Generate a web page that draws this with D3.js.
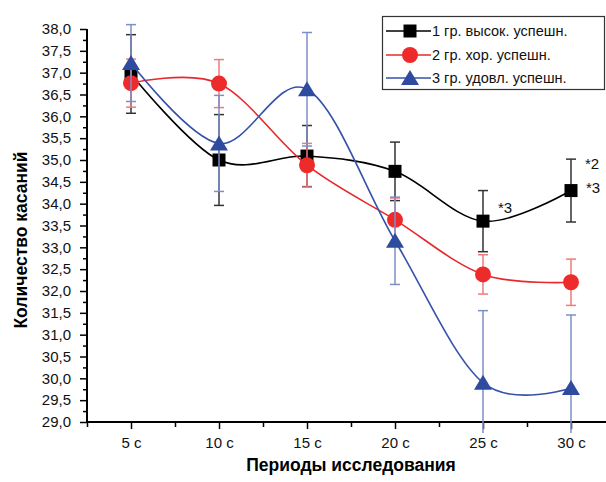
<!DOCTYPE html>
<html>
<head>
<meta charset="utf-8">
<script src="https://cdn.jsdelivr.net/npm/d3@7"></script>
<style>
  html, body { margin: 0; padding: 0; background: #fff; }
  svg { display: block; font-family: "Liberation Sans", Arial, sans-serif; }
</style>
</head>
<body>
<svg id="chart" width="606" height="482"></svg>
<script>
// ---- data ----
const periods = [5, 10, 15, 20, 25, 30];
const periodLabels = ["5 с", "10 с", "15 с", "20 с", "25 с", "30 с"];
const seriesNames = ["1 гр. высок. успешн.", "2 гр. хор. успешн.", "3 гр. удовл. успешн."];
const g1 = [36.97, 35.0, 35.09, 34.74, 33.6, 34.3];
const g1err = [0.9, 1.04, 0.7, 0.67, 0.7, 0.72];
const g2 = [36.76, 36.75, 34.88, 33.63, 32.38, 32.2];
const g2err = [0.55, 0.55, 0.5, 0.5, 0.45, 0.53];
const g3 = [37.22, 35.38, 36.62, 33.15, 29.9, 29.78];
const g3err = [0.88, 1.1, 1.3, 1.0, 1.65, 1.67];
const yTicks = d3.range(29, 38.001, 0.5);
const annotations = [
  { x: 25, y: 33.6, text: "*3", dx: 15, dy: -8 },
  { x: 30, y: 34.3, text: "*2", dx: 14, dy: -22 },
  { x: 30, y: 34.3, text: "*3", dx: 15, dy: 2 }
];

// ---- layout ----
const svg = d3.select("#chart");
const x = d3.scaleLinear().domain([2.5, 32.5]).range([87, 615]);
const y = d3.scaleLinear().domain([29, 38]).range([422, 29]);

const colors = ["#000000", "#ee2b2b", "#2f4b9f"];
const errColors = ["#333333", "#f07a7a", "#7d8fc8"];
const lineColors = ["#000000", "#e8282c", "#3552aa"];

// y axis
const yAxis = svg.append("g").attr("transform", "translate(87,0)");
yAxis.call(d3.axisLeft(y).tickValues(yTicks).tickSize(7).tickPadding(9)
  .tickFormat(d => d3.format(".1f")(d).replace(".", ",")));
yAxis.select(".domain").attr("d", `M-0,${y(38)}V${y(29)}`).attr("stroke-width", 2);
yAxis.selectAll(".tick line").attr("stroke-width", 1.5);
yAxis.selectAll("text").attr("font-size", 15).attr("fill", "#111");
const yMinor = svg.append("g").attr("transform", "translate(87,0)");
yMinor.call(d3.axisLeft(y).tickValues(d3.range(29.25, 38, 0.5)).tickSize(4).tickFormat(""));
yMinor.select(".domain").remove();
yMinor.selectAll(".tick line").attr("stroke-width", 1.5);

// x axis
const xAxis = svg.append("g").attr("transform", "translate(0,422)");
xAxis.call(d3.axisBottom(x).tickValues(periods).tickSize(7).tickPadding(8)
  .tickFormat((d, i) => periodLabels[i]));
xAxis.select(".domain").attr("d", `M87,0H615`).attr("stroke-width", 2);
xAxis.selectAll(".tick line").attr("stroke-width", 1.5);
xAxis.selectAll("text").attr("font-size", 15).attr("fill", "#111");
const xMinor = svg.append("g").attr("transform", "translate(0,422)");
xMinor.call(d3.axisBottom(x).tickValues(d3.range(2.5, 31, 5)).tickSize(5).tickFormat(""));
xMinor.select(".domain").remove();
xMinor.selectAll(".tick line").attr("stroke-width", 1.5);

// axis titles
svg.append("text").attr("x", 351).attr("y", 471).attr("text-anchor", "middle")
  .attr("font-size", 17.5).attr("font-weight", "bold").text("Периоды исследования");
svg.append("text").attr("transform", "translate(27,240) rotate(-90)").attr("text-anchor", "middle")
  .attr("font-size", 17.5).attr("font-weight", "bold").text("Количество касаний");

// clip for error bars
svg.append("clipPath").attr("id", "clip").append("rect")
  .attr("x", 80).attr("y", 0).attr("width", 530).attr("height", 433);

const line = d3.line().x(d => x(d[0])).y(d => y(d[1])).curve(d3.curveCardinal.tension(0));

const allSeries = [[g1, g1err], [g2, g2err], [g3, g3err]];
const symbols = [d3.symbolSquare, d3.symbolCircle, d3.symbolTriangle];
const symSizes = [169, 200, 150];

function marker(g, i, cx, cy) {
  if (i === 2) {
    g.append("path").attr("d", `M${cx},${cy - 8}L${cx + 9},${cy + 7}L${cx - 9},${cy + 7}Z`).attr("fill", colors[i]);
  } else {
    g.append("path").attr("transform", `translate(${cx},${cy})`)
      .attr("d", d3.symbol().type(symbols[i]).size(symSizes[i])())
      .attr("fill", colors[i]);
  }
}

allSeries.forEach(([vals, errs], i) => {
  const g = svg.append("g");
  const pts = periods.map((p, k) => [p, vals[k]]);
  g.append("path").attr("d", line(pts)).attr("fill", "none")
    .attr("stroke", lineColors[i]).attr("stroke-width", 1.6);
  const eg = g.append("g").attr("clip-path", "url(#clip)")
    .attr("stroke", errColors[i]).attr("stroke-width", 1.5);
  periods.forEach((p, k) => {
    const cx = x(p), top = y(vals[k] + errs[k]), bot = y(vals[k] - errs[k]);
    eg.append("line").attr("x1", cx).attr("x2", cx).attr("y1", top).attr("y2", bot);
    eg.append("line").attr("x1", cx - 5).attr("x2", cx + 5).attr("y1", top).attr("y2", top);
    eg.append("line").attr("x1", cx - 5).attr("x2", cx + 5).attr("y1", bot).attr("y2", bot);
  });
  periods.forEach((p, k) => marker(g, i, x(p), y(vals[k])));
});

// annotations
annotations.forEach(a => {
  svg.append("text").attr("x", x(a.x) + a.dx).attr("y", y(a.y) + a.dy)
    .attr("font-size", 15).attr("fill", "#111").text(a.text);
});

// legend
const lg = svg.append("g");
lg.append("rect").attr("x", 382.5).attr("y", 16.5).attr("width", 222).attr("height", 73)
  .attr("fill", "#fff").attr("stroke", "#333").attr("stroke-width", 1.2);
const legY = [31, 55, 78];
seriesNames.forEach((name, i) => {
  lg.append("line").attr("x1", 386).attr("x2", 431).attr("y1", legY[i]).attr("y2", legY[i])
    .attr("stroke", lineColors[i]).attr("stroke-width", 1.6);
  marker(lg, i, 410, legY[i]);
  lg.append("text").attr("x", 432).attr("y", legY[i] + 5).attr("font-size", 14.5)
    .attr("fill", "#111").text(name);
});
</script>
</body>
</html>
